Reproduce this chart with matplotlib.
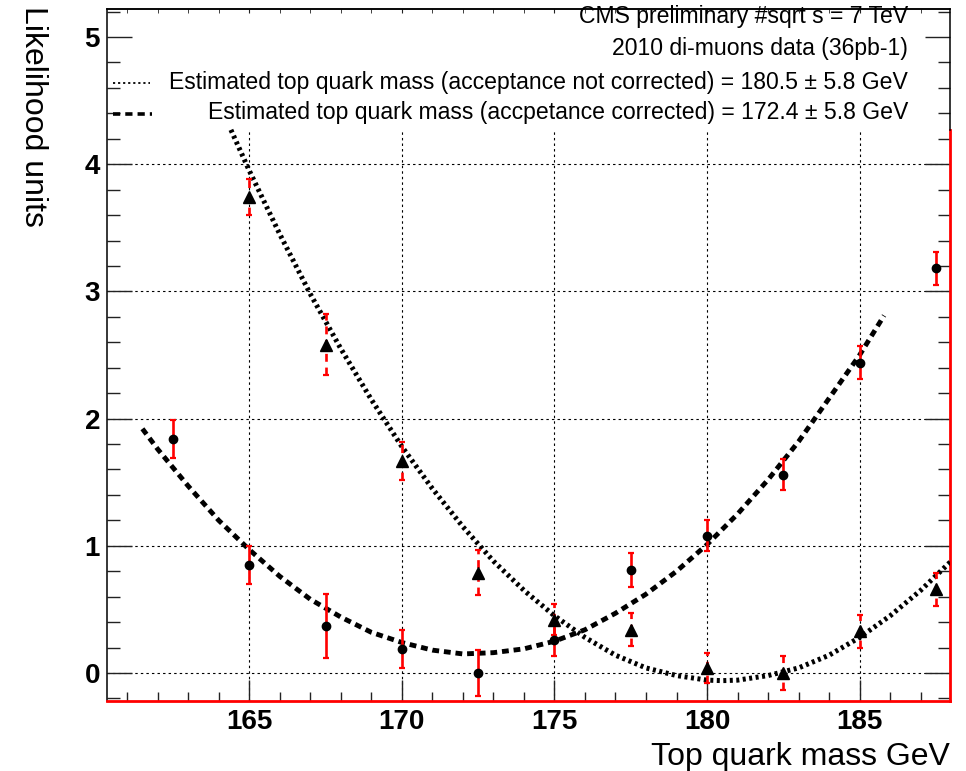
import matplotlib
matplotlib.use('Agg')
import matplotlib.pyplot as plt
from matplotlib.lines import Line2D

plt.rcParams['font.family'] = ['Liberation Sans', 'DejaVu Sans']

# measured points, acceptance corrected (circles)
mass_corr = [162.5, 165, 167.5, 170, 172.5, 175, 177.5, 180, 182.5, 185, 187.5]
like_corr = [1.84, 0.85, 0.37, 0.19, 0.00, 0.26, 0.81, 1.08, 1.56, 2.44, 3.18]
err_corr = [0.15, 0.15, 0.25, 0.15, 0.18, 0.13, 0.13, 0.12, 0.12, 0.13, 0.13]

# measured points, acceptance not corrected (triangles)
mass_raw = [165, 167.5, 170, 172.5, 175, 177.5, 180, 182.5, 185, 187.5]
like_raw = [3.74, 2.58, 1.67, 0.79, 0.42, 0.34, 0.04, 0.00, 0.33, 0.66]
err_raw = [0.14, 0.24, 0.15, 0.18, 0.12, 0.13, 0.12, 0.13, 0.13, 0.13]

# fitted curves
fit_corr_x = [161.5, 162, 163, 164, 165, 166, 167, 168, 169, 170, 171, 172, 173,
              174, 175, 176, 177, 178, 179, 180, 181, 182, 183, 184, 185, 185.8]
fit_corr_y = [1.92, 1.76, 1.47, 1.20, 0.97, 0.76, 0.58, 0.44, 0.32, 0.24, 0.18, 0.15, 0.16,
              0.19, 0.25, 0.34, 0.47, 0.62, 0.80, 1.01, 1.25, 1.52, 1.82, 2.16, 2.50, 2.81]
fit_raw_x = [164.4, 165, 166, 167, 168, 169, 170, 171, 172, 173, 174, 175, 176, 177,
             178, 179, 180, 180.5, 181, 182, 183, 184, 185, 186, 187, 188]
fit_raw_y = [4.27, 3.95, 3.45, 2.98, 2.55, 2.15, 1.78, 1.45, 1.15, 0.88, 0.65, 0.45, 0.28, 0.14,
             0.04, -0.02, -0.056, -0.06, -0.056, -0.02, 0.04, 0.14, 0.28, 0.45, 0.65, 0.88]

x_major = [165, 170, 175, 180, 185]
y_major = [0, 1, 2, 3, 4, 5]

legend_lines = ['CMS preliminary #sqrt s = 7 TeV',
                '2010 di-muons data (36pb-1)',
                'Estimated top quark mass (acceptance not corrected) = 180.5 \u00b1 5.8 GeV',
                'Estimated top quark mass (accpetance corrected) = 172.4 \u00b1 5.8 GeV']

W, H = 966, 771
fig = plt.figure(figsize=(W / 100, H / 100), dpi=100)
ax = fig.add_axes([107 / W, 1 - 701 / H, (950 - 107) / W, (701 - 9) / H])

xmin, xmax = 160.34, 187.96
ymin, ymax = -0.22, 5.22
leg_bottom = 4.27
ax.set_xlim(xmin, xmax)
ax.set_ylim(ymin, ymax)

# grid (hidden behind the legend box)
grid_style = dict(color='black', linewidth=0.8, linestyle=(0, (2.2, 2.8)), zorder=1)
ax.vlines(x_major, ymin, leg_bottom, **grid_style)
ax.hlines([v for v in y_major if v < leg_bottom], xmin, xmax, **grid_style)

# fitted curves
ax.plot(fit_corr_x, fit_corr_y, color='black', lw=3.5, linestyle=(0, (1.4, 1.0)),
        dash_capstyle='butt', zorder=3)
ax.plot(fit_raw_x, fit_raw_y, color='black', lw=3.6, linestyle=(0, (0.6, 0.7)),
        dash_capstyle='butt', zorder=3)

# points with error bars
ax.errorbar(mass_corr, like_corr, yerr=err_corr, fmt='o', color='black', ms=6,
            ecolor='red', elinewidth=1.9, capsize=2.3, capthick=1.6, zorder=4)
eb = ax.errorbar(mass_raw, like_raw, yerr=err_raw, fmt='^', color='black', ms=8,
                 ecolor='red', elinewidth=1.9, capsize=2.3, capthick=1.6, zorder=4)
eb[2][0].set_linestyle((0, (3.0, 2.2)))

# ticks
ax.set_xticks(x_major)
ax.set_xticks([v for v in range(161, 188)], minor=True)
ax.set_yticks(y_major)
ax.set_yticks([i * 0.2 for i in range(-1, 27)], minor=True)
ax.tick_params(which='both', direction='in', right=True, top=False, color='#222222', width=1.0)
ax.tick_params(axis='y', which='major', length=18, pad=5)
ax.tick_params(axis='y', which='minor', length=9)
ax.tick_params(axis='x', which='major', length=15, pad=6)
ax.tick_params(axis='x', which='minor', length=6.5)
for lab in ax.get_xticklabels() + ax.get_yticklabels():
    lab.set_fontsize(20)
    lab.set_fontweight('bold')

sec = ax.secondary_xaxis('top')
sec.set_xticks(x_major)
sec.set_xticks([v for v in range(161, 188)], minor=True)
sec.tick_params(which='both', direction='in', length=3, labeltop=False, color='#222222')
sec.spines['top'].set_linewidth(1.1)

# frame
ax.spines['left'].set_linewidth(1.1)
ax.spines['top'].set_linewidth(1.1)
ax.spines['bottom'].set_color('red')
ax.spines['bottom'].set_linewidth(2.0)
ax.spines['right'].set_color('red')
ax.spines['right'].set_linewidth(2.0)
ax.spines['right'].set_bounds(ymin, leg_bottom)
ax.plot([xmax, xmax], [leg_bottom, ymax], color='black', lw=1.1, clip_on=False, zorder=5)

# axis titles
fig.text(950 / W, 1 - 765 / H, 'Top quark mass GeV', ha='right', va='baseline', fontsize=23)
fig.text(33 / W, 1 - 116 / H, 'Likelihood units', ha='center', va='center',
         rotation=270, fontsize=23)

# legend
row_y = [17, 48, 82, 112]
for txt, yy in zip(legend_lines, row_y):
    fig.text(908 / W, 1 - yy / H, txt, ha='right', va='center', fontsize=16.6)
fig.add_artist(Line2D([113 / W, 150 / W], [1 - 83 / H, 1 - 83 / H], color='black', lw=1.3,
                      linestyle=(0, (1.2, 1.6))))
fig.add_artist(Line2D([113 / W, 152 / W], [1 - 114 / H, 1 - 114 / H], color='black', lw=2.6,
                      linestyle=(0, (2.0, 1.4))))

fig.savefig('out.png', dpi=100)
